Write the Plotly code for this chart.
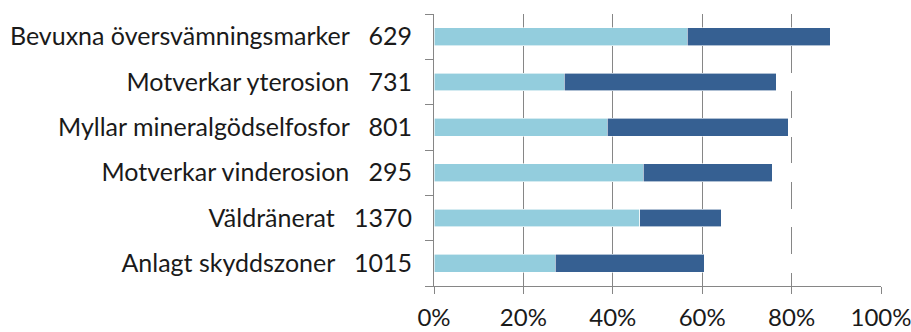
import plotly.graph_objects as go

# Categories (top to bottom) with respondent counts
categories = [
    "Bevuxna översvämningsmarker",
    "Motverkar yterosion",
    "Myllar mineralgödselfosfor",
    "Motverkar vinderosion",
    "Väldränerat",
    "Anlagt skyddszoner",
]
counts = [629, 731, 801, 295, 1370, 1015]

# Shares in percent for the two answer groups
share_light = [56.6, 29.1, 38.8, 46.8, 46.0, 27.1]
share_dark = [32.1, 47.5, 40.6, 29.0, 18.3, 33.5]
share_rest = [100 - a - b for a, b in zip(share_light, share_dark)]

tick_values = [0, 20, 40, 60, 80, 100]
tick_labels = ["0%", "20%", "40%", "60%", "80%", "100%"]

NBSP = "\u00a0"
labels = [f"{c}{NBSP * 3}{n}" for c, n in zip(categories, counts)]

GRID = "#868686"

fig = go.Figure()
fig.add_trace(go.Bar(y=labels, x=share_light, orientation="h",
                     marker=dict(color="#93CDDD", line=dict(color="#FFFFFF", width=0.6))))
fig.add_trace(go.Bar(y=labels, x=share_dark, orientation="h",
                     marker=dict(color="#366092", line=dict(color="#FFFFFF", width=0.6))))
fig.add_trace(go.Bar(y=labels, x=share_rest, orientation="h",
                     marker=dict(color="#FFFFFF", line=dict(color="#FFFFFF", width=1))))

fig.update_layout(
    barmode="stack",
    bargap=0.61,
    showlegend=False,
    width=911,
    height=332,
    margin=dict(l=434, r=30, t=14, b=46),
    paper_bgcolor="white",
    plot_bgcolor="white",
    font=dict(family="Lato, sans-serif", size=24, color="#1a1a1a"),
    xaxis=dict(
        range=[0, 100],
        tickvals=tick_values,
        ticktext=tick_labels,
        showgrid=True,
        gridcolor=GRID,
        gridwidth=1,
        zeroline=False,
        showline=True,
        linecolor=GRID,
        linewidth=1,
        ticks="outside",
        ticklen=7,
        tickcolor=GRID,
        ticklabelstandoff=3,
        ticklabeloverflow="allow",
        automargin=False,
        fixedrange=True,
    ),
    yaxis=dict(
        categoryorder="array",
        categoryarray=labels[::-1],
        tickson="boundaries",
        ticks="outside",
        ticklen=8,
        tickcolor=GRID,
        showline=True,
        linecolor=GRID,
        linewidth=1,
        showgrid=False,
        ticklabelstandoff=16,
        tickfont=dict(size=25),
        automargin=False,
        fixedrange=True,
    ),
)

fig.write_html("out.html")
